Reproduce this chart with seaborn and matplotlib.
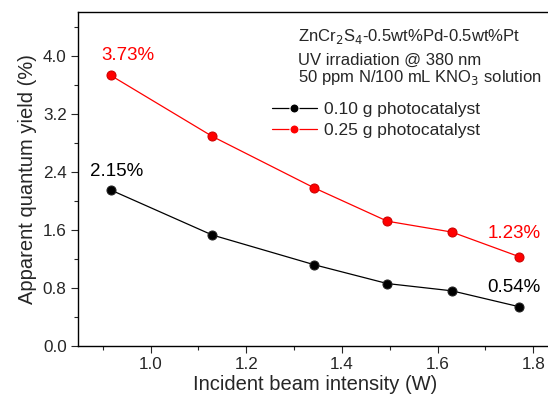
import pandas as pd
import matplotlib
matplotlib.use('Agg')
import matplotlib.pyplot as plt
import seaborn as sns
from matplotlib.ticker import MultipleLocator

# du lieu doc tu hinh
intensity = [0.917, 1.129, 1.342, 1.495, 1.630, 1.771]
yield_010 = [2.15, 1.53, 1.12, 0.86, 0.76, 0.54]
yield_025 = [3.73, 2.89, 2.18, 1.72, 1.57, 1.23]
series_names = ['0.10 g photocatalyst', '0.25 g photocatalyst']

df = pd.concat([
    pd.DataFrame({'x': intensity, 'y': yield_010, 'mau': series_names[0]}),
    pd.DataFrame({'x': intensity, 'y': yield_025, 'mau': series_names[1]}),
])

sns.set_style('ticks')
plt.rcParams['font.family'] = ['Liberation Sans', 'DejaVu Sans']

fig = plt.figure(figsize=(5.48, 3.99), dpi=100)
ax = fig.add_axes([0.142, 0.133, 0.866, 0.836])

sns.lineplot(data=df, x='x', y='y', hue='mau', palette=['black', '#ff0000'],
             marker='o', markersize=6.5, linewidth=0.9, ax=ax)
for line, ec in zip(ax.lines[:2], ['#222222', '#cc0000']):
    line.set_markeredgecolor(ec)

ax.set_xlim(0.848, 1.84)
ax.set_ylim(0, 4.6)
ax.xaxis.set_major_locator(MultipleLocator(0.2))
ax.xaxis.set_minor_locator(MultipleLocator(0.1))
ax.yaxis.set_major_locator(MultipleLocator(0.8))
ax.yaxis.set_minor_locator(MultipleLocator(0.4))
ax.tick_params(which='major', direction='out', length=5, width=0.8, labelsize=12.3, pad=3)
ax.tick_params(which='minor', direction='out', length=3, width=0.8)
for s in ax.spines.values():
    s.set_visible(True)
    s.set_linewidth(1.0)
    s.set_edgecolor('black')

ax.set_xlabel('Incident beam intensity (W)', fontsize=14.5, labelpad=2)
ax.set_ylabel('Apparent quantum yield (%)', fontsize=14.5, labelpad=4)

leg = ax.legend(loc='upper left', bbox_to_anchor=(0.39, 0.757), frameon=False,
                fontsize=12.5, handlelength=2.6, handletextpad=0.4,
                labelspacing=0.3, borderpad=0)

ax.text(0.465, 0.915, r'ZnCr$_2$S$_4$-0.5wt%Pd-0.5wt%Pt', transform=ax.transAxes, fontsize=12)
ax.text(0.465, 0.843, 'UV irradiation @ 380 nm', transform=ax.transAxes, fontsize=12)
ax.text(0.465, 0.79, r'50 ppm N/100 mL KNO$_3$ solution', transform=ax.transAxes, fontsize=12)

# nhan phan tram
labels = [(intensity[0], yield_025[0], '3.73%', '#ff0000', 12, 8),
          (intensity[0], yield_010[0], '2.15%', 'black', 4, 7),
          (intensity[-1], yield_025[-1], '1.23%', '#ff0000', -4, 10.5),
          (intensity[-1], yield_010[-1], '0.54%', 'black', -4, 7.5)]
for x, y, t, c, dx, dy in labels:
    ax.annotate(t, (x, y), xytext=(dx, dy), textcoords='offset points',
                color=c, fontsize=13.5, ha='center', va='bottom')

fig.savefig('out.png', dpi=100, facecolor='white')
plt.close(fig)
